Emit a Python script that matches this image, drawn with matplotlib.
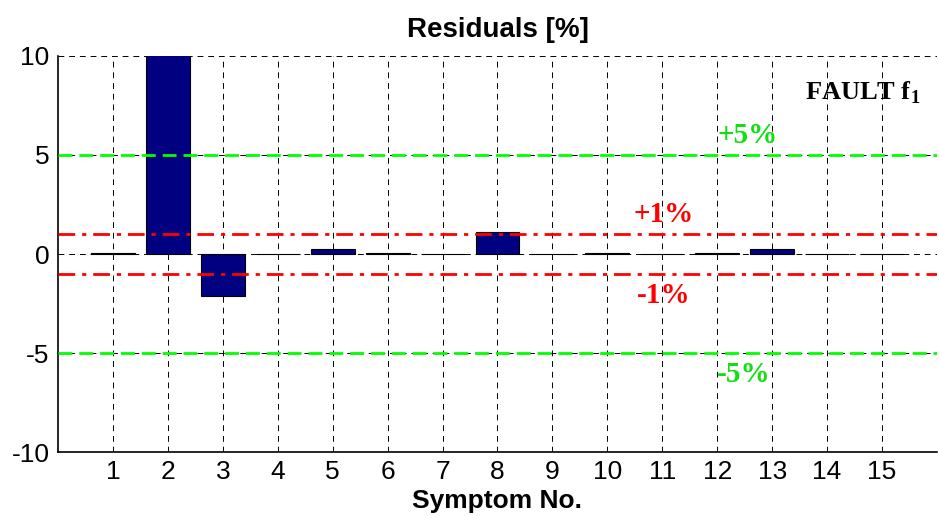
import matplotlib
matplotlib.use("Agg")
import matplotlib.pyplot as plt
import numpy as np

plt.rcParams['axes.unicode_minus'] = False
plt.rcParams['mathtext.fontset'] = 'custom'
plt.rcParams['mathtext.rm'] = 'Liberation Serif'
plt.rcParams['mathtext.bf'] = 'Liberation Serif:bold'

symptoms = list(range(1, 16))
residuals = [0.06, 10.5, -2.1, 0.02, 0.25, 0.05, 0.02, 1.1, 0.01, 0.05, 0.01, 0.05, 0.25, 0.01, 0.01]
yticks = [-10, -5, 0, 5, 10]
green_levels = [5, -5]
red_levels = [1, -1]

fig = plt.figure(figsize=(9.39, 5.16), dpi=100)
ax = fig.add_axes([0.0618, 0.124, 0.936, 0.7675])

ax.set_xlim(0, 16)
ax.set_ylim(-10, 10)
ax.set_axisbelow(True)
ax.set_xticks(symptoms)
ax.set_yticks(yticks)
ax.grid(True, color='black', linestyle=(0, (6, 5)), linewidth=0.7)

ax.bar(symptoms, residuals, width=0.8, color='#000080', edgecolor='black', linewidth=0.8, zorder=2)

for lv in green_levels:
    ax.axhline(lv, color='#00FF00', linestyle=(0, (5, 2.5)), linewidth=2, zorder=3)
for lv in red_levels:
    ax.axhline(lv, color='#FF0000', linestyle=(0, (6, 2.5, 1.5, 2.5)), linewidth=2, zorder=3)

tfont = dict(family='Liberation Serif', weight='bold', size=21)
ax.text(12.0, 5.3, '+5%', color='#10E010', ha='left', va='bottom', **tfont)
ax.text(10.48, 1.3, '+1%', color='#FF0000', ha='left', va='bottom', **tfont)
ax.text(10.54, -1.4, '-1%', color='#FF0000', ha='left', va='top', **tfont)
ax.text(12.0, -5.4, '-5%', color='#10E010', ha='left', va='top', **tfont)
ax.text(15.69, 7.8, r'FAULT f$_\mathbf{1}$', color='black', ha='right', va='baseline',
        family='Liberation Serif', weight='bold', size=19)

for s in ['top', 'right']:
    ax.spines[s].set_visible(False)
for s in ['left', 'bottom']:
    ax.spines[s].set_linewidth(1.2)

ax.tick_params(direction='in', length=0, labelsize=19)
ax.tick_params(axis='x', pad=6)
ax.tick_params(axis='y', pad=6)
for lab in ax.get_xticklabels() + ax.get_yticklabels():
    lab.set_family('Liberation Sans')

ax.set_title('Residuals [%]', fontsize=20, fontweight='bold', family='Liberation Sans', pad=14)
ax.set_xlabel('Symptom No.', fontsize=19, fontweight='bold', family='Liberation Sans', labelpad=3)

fig.savefig('out.png', dpi=100)
